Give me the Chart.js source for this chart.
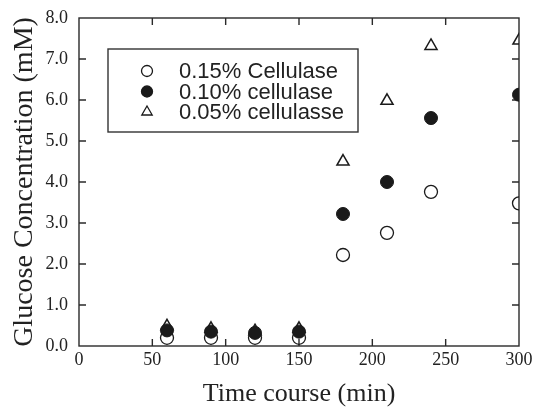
<!DOCTYPE html>
<html>
<head>
<meta charset="utf-8">
<script src="https://cdn.jsdelivr.net/npm/chart.js@4.4.0/dist/chart.umd.min.js"></script>
<style>
  body { margin: 0; background: #fff; }
</style>
</head>
<body>
<canvas id="grafico" width="536" height="408"></canvas>
<script>
const tempo = [60, 90, 120, 150, 180, 210, 240, 300];
const cel015 = [0.2, 0.2, 0.2, 0.2, 2.22, 2.76, 3.76, 3.48];
const cel010 = [0.38, 0.35, 0.32, 0.35, 3.22, 4.0, 5.56, 6.13];
const cel005 = [0.48, 0.42, 0.36, 0.42, 4.5, 5.98, 7.32, 7.45];
const rotulos = ['0.15% Cellulase', '0.10% cellulase', '0.05% cellulasse'];
const ticksX = [0, 50, 100, 150, 200, 250, 300];
const ticksY = [0, 1, 2, 3, 4, 5, 6, 7, 8];

const pontos = (ys) => tempo.map((t, i) => ({ x: t, y: ys[i] }));
const cor = '#1a1a1a';

// moldura com ticks para dentro
const moldura = {
  id: 'moldura',
  beforeDatasetsDraw(chart) {
    const { ctx, chartArea: a, scales } = chart;
    ctx.save();
    ctx.strokeStyle = '#2a2a2a';
    ctx.lineWidth = 1.4;
    ctx.strokeRect(a.left, a.top, a.right - a.left, a.bottom - a.top);
    ctx.beginPath();
    ticksX.slice(1, -1).forEach(v => {
      const px = scales.x.getPixelForValue(v);
      ctx.moveTo(px, a.bottom); ctx.lineTo(px, a.bottom - 7);
      ctx.moveTo(px, a.top); ctx.lineTo(px, a.top + 7);
    });
    ticksY.slice(1, -1).forEach(v => {
      const py = scales.y.getPixelForValue(v);
      ctx.moveTo(a.left, py); ctx.lineTo(a.left + 7, py);
      ctx.moveTo(a.right, py); ctx.lineTo(a.right - 7, py);
    });
    ctx.stroke();
    ctx.restore();
  }
};

// legenda dentro do grafico
const legenda = {
  id: 'legenda',
  afterDraw(chart) {
    const { ctx } = chart;
    ctx.save();
    ctx.strokeStyle = '#333';
    ctx.lineWidth = 1.4;
    ctx.strokeRect(108, 49, 250, 83);
    ctx.font = '22px "Liberation Sans", Arial, sans-serif';
    ctx.fillStyle = '#222';
    ctx.textBaseline = 'middle';
    const estilos = [
      { pointStyle: 'circle', radius: 5.5, fill: 'rgba(0,0,0,0)' },
      { pointStyle: 'circle', radius: 5.5, fill: cor },
      { pointStyle: 'triangle', radius: 6, fill: 'rgba(0,0,0,0)' }
    ];
    rotulos.forEach((txt, i) => {
      const y = 71 + i * 20.5;
      ctx.strokeStyle = cor;
      ctx.fillStyle = estilos[i].fill;
      ctx.lineWidth = 1.3;
      Chart.helpers.drawPoint(ctx, { pointStyle: estilos[i].pointStyle, radius: estilos[i].radius, rotation: 0, borderWidth: 1.3 }, 147, y);
      ctx.fillStyle = '#222';
      ctx.fillText(txt, 179, y + 1);
    });
    ctx.restore();
  }
};

Chart.defaults.font.family = '"Liberation Serif", "Times New Roman", serif';
Chart.defaults.color = '#222';

new Chart(document.getElementById('grafico'), {
  type: 'scatter',
  data: {
    datasets: [
      {
        label: rotulos[0],
        data: pontos(cel015),
        pointStyle: 'circle',
        pointRadius: 6.5,
        borderWidth: 1.3,
        borderColor: cor,
        backgroundColor: 'rgba(0,0,0,0)',
        order: 2
      },
      {
        label: rotulos[1],
        data: pontos(cel010),
        pointStyle: 'circle',
        pointRadius: 6.5,
        borderWidth: 1,
        borderColor: cor,
        backgroundColor: cor,
        order: 0
      },
      {
        label: rotulos[2],
        data: pontos(cel005),
        pointStyle: 'triangle',
        pointRadius: 7,
        borderWidth: 1.5,
        borderColor: cor,
        backgroundColor: 'rgba(0,0,0,0)',
        order: 1
      }
    ]
  },
  options: {
    responsive: false,
    animation: false,
    layout: { padding: { top: 18, right: 17, left: 0, bottom: 0 } },
    plugins: { legend: { display: false }, tooltip: { enabled: false } },
    scales: {
      x: {
        type: 'linear',
        min: 0,
        max: 300,
        afterBuildTicks: s => { s.ticks = ticksX.map(v => ({ value: v })); },
        ticks: { font: { size: 18 }, padding: 3, maxRotation: 0 },
        grid: { display: false, drawTicks: false },
        border: { display: false },
        title: { display: true, text: 'Time course (min)', font: { size: 26, lineHeight: 1 }, padding: { top: 0, bottom: 1 } },
        afterFit: s => { s.height = 62; s.paddingLeft = 0; s.paddingRight = 0; }
      },
      y: {
        type: 'linear',
        min: 0,
        max: 8,
        afterBuildTicks: s => { s.ticks = ticksY.map(v => ({ value: v })); },
        ticks: { font: { size: 18 }, padding: 11, callback: v => v.toFixed(1) },
        grid: { display: false, drawTicks: false },
        border: { display: false },
        title: { display: true, text: 'Glucose Concentration (mM)', font: { size: 28, lineHeight: 1 }, padding: { top: 11, bottom: 0 } },
        afterFit: s => { s.width = 79; s.paddingTop = 0; s.paddingBottom = 0; }
      }
    }
  },
  plugins: [moldura, legenda]
});
</script>
</body>
</html>
